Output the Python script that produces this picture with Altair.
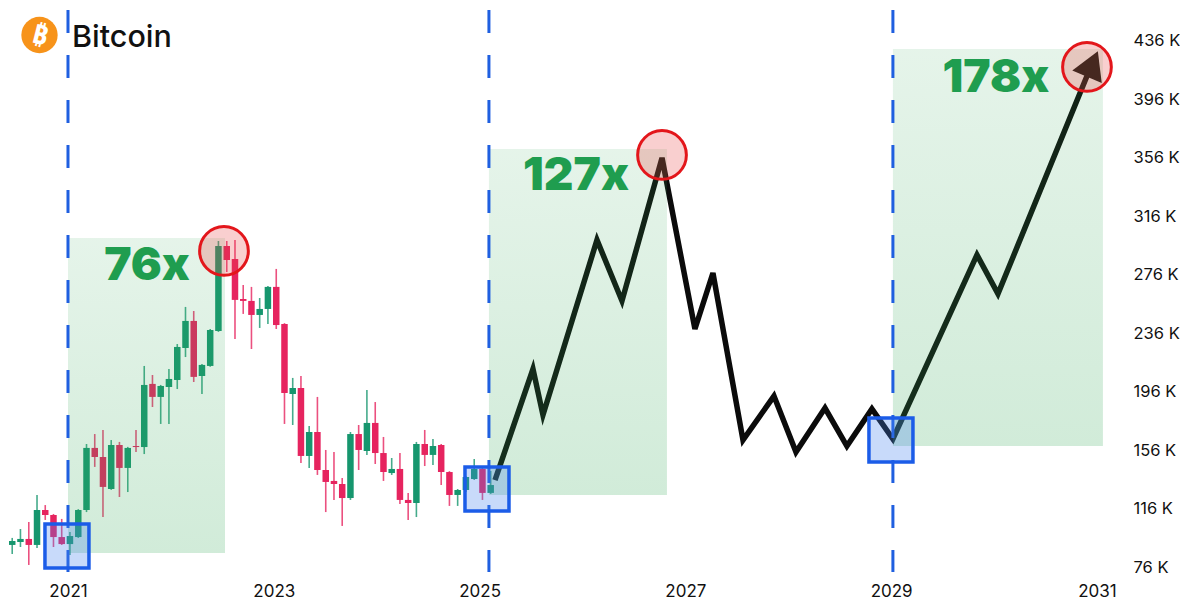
import altair as alt
import pandas as pd

# ---------------- data (values in thousands of USD, time in decimal years) ----------------
candle_t = [2020.378, 2020.458, 2020.538, 2020.619, 2020.699, 2020.779, 2020.859, 2020.939, 2021.019, 2021.100,
            2021.180, 2021.260, 2021.340, 2021.420, 2021.500, 2021.581, 2021.661, 2021.741, 2021.821, 2021.901,
            2021.981, 2022.062, 2022.142, 2022.222, 2022.302, 2022.382, 2022.462, 2022.543, 2022.623, 2022.703,
            2022.783, 2022.863, 2022.943, 2023.024, 2023.104, 2023.184, 2023.264, 2023.344, 2023.424, 2023.505,
            2023.585, 2023.665, 2023.745, 2023.825, 2023.905, 2023.986, 2024.066, 2024.146, 2024.226, 2024.306,
            2024.386, 2024.467, 2024.547, 2024.627, 2024.707, 2024.787, 2024.867, 2024.948, 2025.028, 2025.108]
candle_open = [94.5, 91.1, 93.1, 95.2, 91.1, 115.0, 111.6, 96.5, 91.7, 96.5,
               115.0, 157.5, 151.3, 129.4, 159.5, 143.8, 158.8, 158.1, 201.3, 192.4,
               199.2, 204.0, 225.9, 244.4, 206.7, 213.6, 237.5, 295.7, 286.8, 259.4,
               258.1, 248.5, 252.6, 267.7, 242.3, 194.4, 198.5, 152.0, 168.4, 142.4,
               134.9, 132.8, 123.2, 167.0, 155.4, 174.6, 154.0, 140.3, 143.1, 121.9,
               119.8, 160.2, 152.7, 159.5, 141.0, 125.3, 128.7, 136.2, 143.1, 126.7]
candle_close = [91.1, 93.8, 95.2, 91.1, 115.0, 111.6, 96.5, 91.7, 97.2, 115.0,
                157.5, 151.3, 130.8, 159.5, 143.8, 157.5, 158.1, 200.6, 192.4, 199.9,
                204.7, 226.6, 244.4, 206.1, 214.3, 238.2, 295.7, 286.1, 258.8, 258.1,
                248.5, 252.6, 267.7, 241.6, 195.1, 198.5, 152.0, 168.4, 142.4, 134.2,
                132.8, 123.2, 167.0, 156.1, 174.6, 154.0, 141.0, 143.1, 121.9, 119.8,
                160.2, 152.7, 158.8, 141.0, 125.3, 128.7, 137.6, 143.1, 126.7, 132.1]
candle_high = [97.2, 95.9, 102.0, 106.8, 125.3, 118.4, 112.3, 108.9, 100.0, 115.6,
               160.2, 167.0, 169.8, 162.9, 161.6, 158.2, 169.8, 213.6, 207.4, 200.6,
               211.5, 228.6, 254.0, 251.2, 214.9, 238.8, 299.1, 299.1, 299.8, 269.0,
               267.7, 260.1, 268.3, 280.0, 242.9, 205.4, 206.7, 172.5, 192.4, 156.1,
               154.7, 136.9, 168.4, 173.2, 197.2, 188.9, 165.0, 150.6, 154.0, 126.7,
               161.6, 169.8, 163.6, 160.2, 141.6, 129.4, 138.2, 149.9, 143.7, 141.7]
candle_low = [87.6, 84.9, 89.7, 77.4, 89.0, 108.2, 89.7, 91.1, 84.2, 95.9,
              113.6, 144.5, 110.2, 128.8, 123.9, 127.3, 154.7, 153.3, 185.5, 173.9,
              173.9, 197.8, 219.7, 202.6, 194.4, 213.0, 236.9, 277.9, 232.1, 249.2,
              225.2, 239.6, 242.3, 238.9, 173.9, 173.2, 147.2, 143.8, 139.0, 113.6,
              121.9, 104.1, 121.9, 142.4, 152.7, 146.5, 134.9, 139.0, 119.1, 108.2,
              110.2, 145.1, 145.8, 132.1, 117.8, 117.8, 127.3, 135.6, 121.9, 126.0]

# projected path
proj_t = [2025.150, 2025.519, 2025.616, 2026.141, 2026.384, 2026.773, 2027.093, 2027.268, 2027.560,
          2027.861, 2028.075, 2028.357, 2028.570, 2028.813, 2029.017, 2029.834, 2030.038, 2030.903]
proj_v = [135.5, 211.5, 180.0, 299.8, 258.1, 356.0, 238.9, 277.2, 162.9,
          193.0, 154.7, 184.8, 158.8, 184.2, 163.6, 289.6, 262.9, 412.0]
arrow_t = [2030.956]
arrow_v = [420.3]

# cycle zones
zone_t1 = [2021.000, 2025.091, 2029.017]
zone_t2 = [2022.526, 2026.821, 2031.058]
zone_v1 = [85.6, 125.3, 158.8]
zone_v2 = [301.2, 362.1, 430.5]

# cycle lows (blue boxes) and highs (red circles)
low_t = [2020.990, 2025.072, 2028.998]
low_v = [90.4, 129.4, 162.9]
high_t = [2022.516, 2026.773, 2030.903]
high_v = [292.3, 358.0, 418.2]

# multiplier labels
mult_text = ["76x", "127x", "178x"]
mult_t = [2021.768, 2025.937, 2030.018]
mult_v = [282.0, 343.6, 410.7]

# dashed cycle lines
cycle_t = [2021.000, 2025.091, 2029.017]

# axes
x_ticks = [2021, 2023, 2025, 2027, 2029, 2031]
y_ticks = [76, 116, 156, 196, 236, 276, 316, 356, 396, 436]

# ---------------- tables ----------------
candles = pd.DataFrame({"t": candle_t, "o": candle_open, "c": candle_close,
                        "h": candle_high, "l": candle_low})
candles["up"] = candles["c"] >= candles["o"]
proj = pd.DataFrame({"t": proj_t, "v": proj_v, "i": list(range(len(proj_t)))})
arrow = pd.DataFrame({"t": arrow_t, "v": arrow_v})
zones = pd.DataFrame({"t1": zone_t1, "t2": zone_t2, "v1": zone_v1, "v2": zone_v2})
lows = pd.DataFrame({"t": low_t, "v": low_v})
highs = pd.DataFrame({"t": high_t, "v": high_v})
mults = pd.DataFrame({"t": mult_t, "v": mult_v, "label": mult_text})
cycles = pd.DataFrame({"t": cycle_t})
one = pd.DataFrame({"k": [0]})

xscale = alt.Scale(domain=[2020.417, 2031.224], nice=False, zero=False, padding=0)
yscale = alt.Scale(domain=[69.16, 457.2], nice=False, zero=False, padding=0)
xaxis = alt.Axis(values=x_ticks, format="d", title=None, ticks=False, domain=False, grid=False,
                 labelFontSize=17, labelFont="Inter", labelColor="#111111", labelPadding=6,
                 labelFlush=False, labelOverlap=False)
yaxis = alt.Axis(orient="right", values=y_ticks, labelExpr="datum.value + ' K'", title=None,
                 ticks=False, domain=False, grid=False, labelFontSize=16.5, labelFont="Inter",
                 labelColor="#111111", labelPadding=13, labelOverlap=False)


def X(f):
    return alt.X(f, type="quantitative", scale=xscale, axis=xaxis)


def Y(f):
    return alt.Y(f, type="quantitative", scale=yscale, axis=yaxis)


GREEN = "#16966e"
RED = "#e6245f"
color_enc = alt.condition("datum.up", alt.value(GREEN), alt.value(RED))

wicks = alt.Chart(candles).mark_rule(strokeWidth=1.6, opacity=0.8, clip=True).encode(
    x=X("t"), y=Y("l"), y2="h", color=color_enc)
bodies = alt.Chart(candles).mark_bar(size=6.5, clip=True).encode(
    x=X("t"), y=Y("o"), y2="c", color=color_enc)

path = alt.Chart(proj).mark_line(color="#0b0b0b", strokeWidth=5.5, strokeJoin="miter",
                                 strokeCap="butt").encode(x=X("t"), y=Y("v"), order="i:Q")
arrowhead = alt.Chart(arrow).mark_point(shape="triangle-up", size=1024, filled=True,
                                        color="#0b0b0b", opacity=1, angle=23).encode(
    x=X("t"), y=Y("v"))

zone_rects = alt.Chart(zones).mark_rect(
    color=alt.Gradient(gradient="linear",
                       stops=[alt.GradientStop(color="rgba(56,170,90,0.13)", offset=0),
                              alt.GradientStop(color="rgba(56,170,90,0.23)", offset=1)],
                       x1=0, x2=0, y1=0, y2=1)).encode(
    x=X("t1"), x2="t2", y=Y("v1"), y2="v2")

cycle_lines = alt.Chart(cycles).mark_rule(color="#1f5fe0", strokeWidth=3,
                                          strokeDash=[23, 22]).encode(
    x=X("t"), y=alt.value(0), y2=alt.value(562))

low_boxes = alt.Chart(lows).mark_point(shape="square", size=1936, filled=False,
                                       stroke="#1b5ce8", strokeWidth=3.5, fill="#4a86f0",
                                       fillOpacity=0.3, opacity=1).encode(
    x=X("t"), y=Y("v"))

high_circles = alt.Chart(highs).mark_point(shape="circle", size=2376, filled=False,
                                           stroke="#e3161b", strokeWidth=3, fill="#e8413e",
                                           fillOpacity=0.25, opacity=1).encode(
    x=X("t"), y=Y("v"))

mult_labels = alt.Chart(mults).mark_text(font="Inter", fontSize=46, fontWeight=900,
                                         color="#1f9d4f", align="center",
                                         baseline="middle").encode(
    x=X("t"), y=Y("v"), text="label:N")

logo = alt.Chart(one).mark_point(shape="circle", size=1320, filled=True, color="#f7931a",
                                 opacity=1).encode(x=alt.value(31.5), y=alt.value(25))
logo_b = alt.Chart(one).mark_text(text="₿", font="Noto Sans", fontSize=27, fontWeight="bold",
                                  color="white", angle=14, align="center",
                                  baseline="middle").encode(x=alt.value(32), y=alt.value(26))
title = alt.Chart(one).mark_text(text="Bitcoin", font="Inter", fontSize=30.5, fontWeight=500,
                                 color="#111111", align="left",
                                 baseline="alphabetic").encode(x=alt.value(64), y=alt.value(37))

chart = alt.layer(
    wicks, bodies, path, arrowhead, zone_rects, cycle_lines, low_boxes, high_circles,
    mult_labels, logo, logo_b, title
).properties(
    width=1112, height=567, padding=0, background="white"
).configure_view(stroke=None)

chart.save("out.html", embed_options={"renderer": "svg", "actions": False})
